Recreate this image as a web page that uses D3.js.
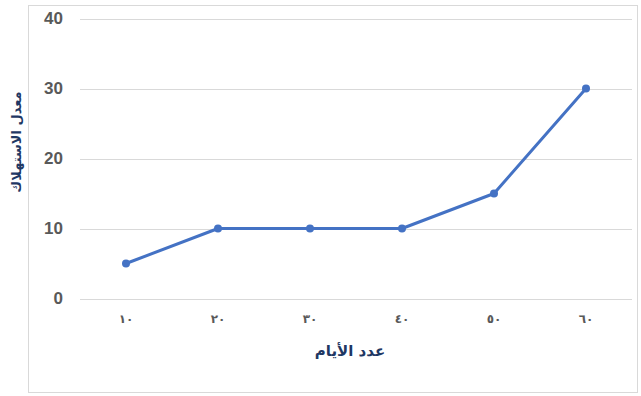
<!DOCTYPE html>
<html><head><meta charset="utf-8">
<script src="https://cdn.jsdelivr.net/npm/d3@7"></script>
<style>body{margin:0;background:#fff}svg{display:block}</style>
</head><body>
<script>
const categories = ["١٠","٢٠","٣٠","٤٠","٥٠","٦٠"];
const values = [5,10,10,10,15,30];
const yTicks = [0,10,20,30,40];
const xTitle = "عدد الأيام";
const yTitle = "معدل الاستهلاك";

const W=641,H=396;
const svg=d3.select("body").append("svg").attr("width",W).attr("height",H);
svg.append("rect").attr("x",28.5).attr("y",5.5).attr("width",609).attr("height",387)
  .attr("fill","#fff").attr("stroke","#d9d9d9");

const x=d3.scaleBand().domain(categories).range([80,632]);
const y=d3.scaleLinear().domain([0,40]).range([298.5,18.5]);

const grid=svg.append("g");
grid.selectAll("line").data(yTicks).join("line")
  .attr("x1",80).attr("x2",632).attr("y1",d=>Math.round(y(d))+0.5).attr("y2",d=>Math.round(y(d))+0.5)
  .attr("stroke","#d9d9d9").attr("stroke-width",1);

const yAxis=svg.append("g").attr("transform","translate(80,0)")
  .call(d3.axisLeft(y).tickValues(yTicks).tickSize(0).tickPadding(17));
yAxis.select(".domain").remove();
yAxis.selectAll("text").attr("fill","#595959").style("font-family","'Liberation Sans',Arial,sans-serif")
  .style("font-size","17px").style("font-weight","bold");

const xAxis=svg.append("g").attr("transform","translate(0,298)")
  .call(d3.axisBottom(x).tickSize(0).tickPadding(16));
xAxis.select(".domain").remove();
xAxis.selectAll("text").attr("fill","#595959").style("font-family","'DejaVu Sans',sans-serif")
  .style("font-size","12px").style("font-weight","bold");

const cx=d=>x(d)+x.bandwidth()/2;
const data=categories.map((c,i)=>({c,v:values[i]}));
svg.append("path").datum(data)
  .attr("d",d3.line().x(d=>cx(d.c)).y(d=>y(d.v)))
  .attr("fill","none").attr("stroke","#4472C4").attr("stroke-width",3).attr("stroke-linejoin","round");
svg.selectAll("circle.pt").data(data).join("circle").attr("class","pt")
  .attr("cx",d=>cx(d.c)).attr("cy",d=>y(d.v)).attr("r",4).attr("fill","#4472C4");

svg.append("text").attr("x",350).attr("y",356).attr("text-anchor","middle")
  .attr("fill","#1F3864").style("font-family","'DejaVu Sans',sans-serif")
  .style("font-size","15px").style("font-weight","bold").text(xTitle);
svg.append("text").attr("transform","translate(21,142) rotate(-90)").attr("text-anchor","middle")
  .attr("fill","#1F3864").style("font-family","'DejaVu Sans',sans-serif")
  .style("font-size","13px").style("font-weight","bold").text(yTitle);
</script>
</body></html>
